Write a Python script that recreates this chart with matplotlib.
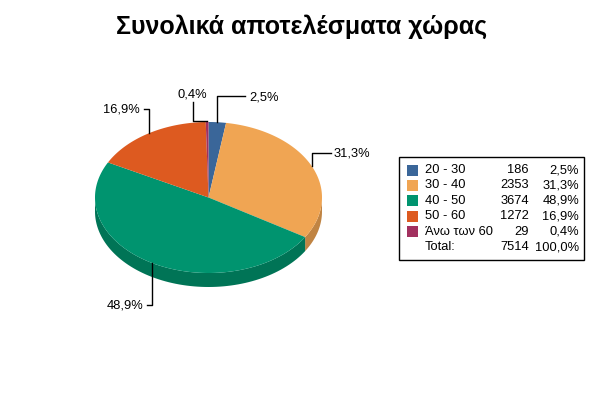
import matplotlib
matplotlib.use('Agg')
import matplotlib.pyplot as plt
from matplotlib.patches import Polygon, Rectangle
import numpy as np

plt.rcParams['font.family'] = ['Liberation Sans', 'DejaVu Sans']

title = 'Συνολικά αποτελέσματα χώρας'
categories = ['20 - 30', '30 - 40', '40 - 50', '50 - 60', 'Άνω των 60']
counts = [186, 2353, 3674, 1272, 29]
pct_labels = ['2,5%', '31,3%', '48,9%', '16,9%', '0,4%']
total_label = '7514'
total_pct = '100,0%'
colors = ['#3a6699', '#f0a553', '#00946f', '#dd5a20', '#a2305f']
side_colors = ['#2d5078', '#c08443', '#007456', '#b04718', '#80264b']

W, H = 603, 394
fig = plt.figure(figsize=(W / 100, H / 100), dpi=100)
ax = fig.add_axes([0, 0, 1, 1])
ax.set_xlim(0, W)
ax.set_ylim(H, 0)
ax.axis('off')

cx, cy, rx, ry, depth = 208.5, 197.5, 113.5, 75.5, 14

def pt(a):
    return cx + rx * np.cos(np.radians(a)), cy - ry * np.sin(np.radians(a))

fr = np.array(counts) / sum(counts)
bounds = 90 - 360 * np.concatenate([[0], np.cumsum(fr)])

# side walls (front half only, i.e. angles between -180 and 0)
for i in range(len(counts)):
    a0, a1 = bounds[i], bounds[i + 1]  # a0 > a1
    for shift in (0, -360):
        lo = max(a1 + shift, -180)
        hi = min(a0 + shift, 0)
        if hi <= lo:
            continue
        t = np.linspace(hi, lo, 80)
        xs = cx + rx * np.cos(np.radians(t))
        ys = cy - ry * np.sin(np.radians(t))
        poly = np.vstack([np.column_stack([xs, ys]),
                          np.column_stack([xs[::-1], ys[::-1] + depth])])
        ax.add_patch(Polygon(poly, closed=True, fc=side_colors[i], ec='none'))

# top faces
for i in range(len(counts)):
    t = np.linspace(bounds[i], bounds[i + 1], 200)
    xs = cx + rx * np.cos(np.radians(t))
    ys = cy - ry * np.sin(np.radians(t))
    poly = np.vstack([[cx, cy], np.column_stack([xs, ys])])
    ax.add_patch(Polygon(poly, closed=True, fc=colors[i], ec='none'))

# leader lines: (elbow offset from anchor, end point of line, text pos, ha)
leaders = [
    [(0, -26), (28, -26), (32, -25), 'left'],
    [(0, -13), (19, -13), (22, -12), 'left'],
    [(0, 42), (-5, 42), (-9, 42), 'right'],
    [(0, -24), (-5, -24), (-9, -24), 'right'],
]
order = [0, 1, 2, 3]
fs = 9.3
for i, (e1, e2, tp, ha) in zip(order, leaders):
    mid = (bounds[i] + bounds[i + 1]) / 2
    x0, y0 = pt(mid)
    ax.plot([x0, x0 + e1[0], x0 + e2[0]], [y0, y0 + e1[1], y0 + e2[1]],
            color='black', lw=1)
    ax.text(x0 + tp[0], y0 + tp[1], pct_labels[i], ha=ha, va='center', fontsize=fs)

# small slice: horizontal then up to label
mid = (bounds[4] + bounds[5]) / 2
x0, y0 = pt(mid)
ax.plot([x0, x0 - 14, x0 - 14], [y0 - 1, y0 - 1, y0 - 20], color='black', lw=1)
ax.text(x0 - 15, y0 - 28, pct_labels[4], ha='center', va='center', fontsize=fs)

ax.text(302, 27, title, ha='center', va='center', fontsize=18, fontweight='bold')

# legend table
ax.add_patch(Rectangle((398.5, 156.5), 185, 103, fc='white', ec='black', lw=1))
row_y = 170
for i in range(len(categories)):
    y = row_y + 15.4 * i
    ax.add_patch(Rectangle((407, y - 5.5), 11, 11, fc=colors[i], ec='none'))
    ax.text(425, y, categories[i], ha='left', va='center', fontsize=fs)
    ax.text(529, y, str(counts[i]), ha='right', va='center', fontsize=fs)
    ax.text(579, y, pct_labels[i], ha='right', va='center', fontsize=fs)
y = row_y + 15.4 * len(categories)
ax.text(425, y, 'Total:', ha='left', va='center', fontsize=fs)
ax.text(529, y, total_label, ha='right', va='center', fontsize=fs)
ax.text(579, y, total_pct, ha='right', va='center', fontsize=fs)

fig.savefig('out.png', dpi=100)
